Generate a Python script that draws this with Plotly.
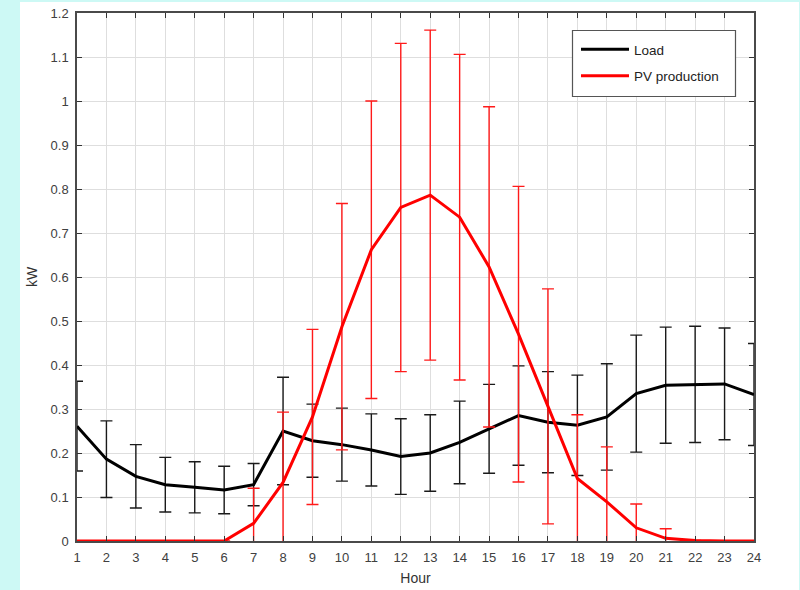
import plotly.graph_objects as go

# Hourly profile: mean and standard deviation per hour of the day
hours = list(range(1, 25))

load_mean = [0.261, 0.186, 0.147, 0.128, 0.122, 0.116, 0.128, 0.250,
             0.228, 0.219, 0.207, 0.192, 0.200, 0.224, 0.255, 0.285,
             0.270, 0.263, 0.282, 0.335, 0.354, 0.356, 0.357, 0.333]
load_std = [0.102, 0.087, 0.072, 0.062, 0.058, 0.054, 0.048, 0.122,
            0.083, 0.083, 0.082, 0.086, 0.087, 0.094, 0.101, 0.113,
            0.115, 0.114, 0.121, 0.133, 0.132, 0.132, 0.127, 0.116]

pv_mean = [0.0, 0.0, 0.0, 0.0, 0.0, 0.0, 0.040, 0.133,
           0.282, 0.487, 0.662, 0.758, 0.786, 0.736, 0.623, 0.470,
           0.306, 0.142, 0.089, 0.030, 0.006, 0.001, 0.0, 0.0]
pv_std = [0.0, 0.0, 0.0, 0.0, 0.0, 0.0, 0.080, 0.160,
          0.199, 0.280, 0.338, 0.373, 0.375, 0.370, 0.364, 0.336,
          0.267, 0.145, 0.125, 0.054, 0.022, 0.0, 0.0, 0.0]

x_ticks = hours
y_ticks = [round(0.1 * i, 1) for i in range(13)]

FONT = "Liberation Sans, Arial, sans-serif"

fig = go.Figure()

fig.add_trace(go.Scatter(
    x=hours, y=load_mean, mode="lines", name="Load",
    line=dict(color="#000000", width=3),
    error_y=dict(type="data", array=load_std, visible=True,
                 color="#1a1a1a", thickness=1.4, width=6),
    cliponaxis=False, legendgroup="load",
))

fig.add_trace(go.Scatter(
    x=hours, y=pv_mean, mode="lines", name="PV production",
    line=dict(color="#ff0000", width=3),
    error_y=dict(type="data", array=pv_std, visible=True,
                 color="#ff1a1a", thickness=1.4, width=6),
    cliponaxis=True, legendgroup="pv",
))

L, R, T, B = 77, 46, 13, 49
W, H = 800, 590
pw, ph = W - L - R, H - T - B


def px_x(px):
    return (px - L) / pw


def px_y(py):
    return (H - B - py) / ph


# white panel over the cyan page background
fig.add_shape(type="rect", xref="paper", yref="paper", layer="below",
              x0=px_x(20), x1=px_x(799), y0=px_y(600), y1=px_y(2),
              line=dict(width=0), fillcolor="white")

# legend frame
fig.add_shape(type="rect", xref="paper", yref="paper", layer="above",
              x0=px_x(572.5), x1=px_x(735.5), y0=px_y(96.5), y1=px_y(30.5),
              line=dict(color="#555555", width=1.2), fillcolor="white")

axis_common = dict(
    showline=True, linecolor="#4a4a4a", linewidth=1.5, mirror="ticks",
    ticks="inside", ticklen=5, tickwidth=1, tickcolor="#333333",
    showgrid=True, gridcolor="#dedede", gridwidth=1, zeroline=False,
    tickfont=dict(family=FONT, size=13, color="#404040"),
)

fig.update_xaxes(range=[1, 24], tickvals=x_ticks, ticklabelstandoff=4, **axis_common,
                 title=dict(text="Hour", standoff=9,
                            font=dict(family=FONT, size=14, color="#333333")))
fig.update_yaxes(range=[0, 1.2], tickvals=y_ticks, ticklabelstandoff=4, **axis_common,
                 title=dict(text="kW", standoff=10,
                            font=dict(family=FONT, size=14, color="#333333")))

fig.update_layout(
    width=W, height=H,
    margin=dict(l=L, r=R, t=T, b=B, autoexpand=False),
    paper_bgcolor="#cdf9f5", plot_bgcolor="white",
    showlegend=True,
    legend=dict(x=px_x(576), y=px_y(34), xanchor="left", yanchor="top",
                bgcolor="rgba(0,0,0,0)", borderwidth=0,
                font=dict(family=FONT, size=13.5, color="#222222"),
                itemwidth=48, tracegroupgap=6),
)

fig.write_html("out.html")
